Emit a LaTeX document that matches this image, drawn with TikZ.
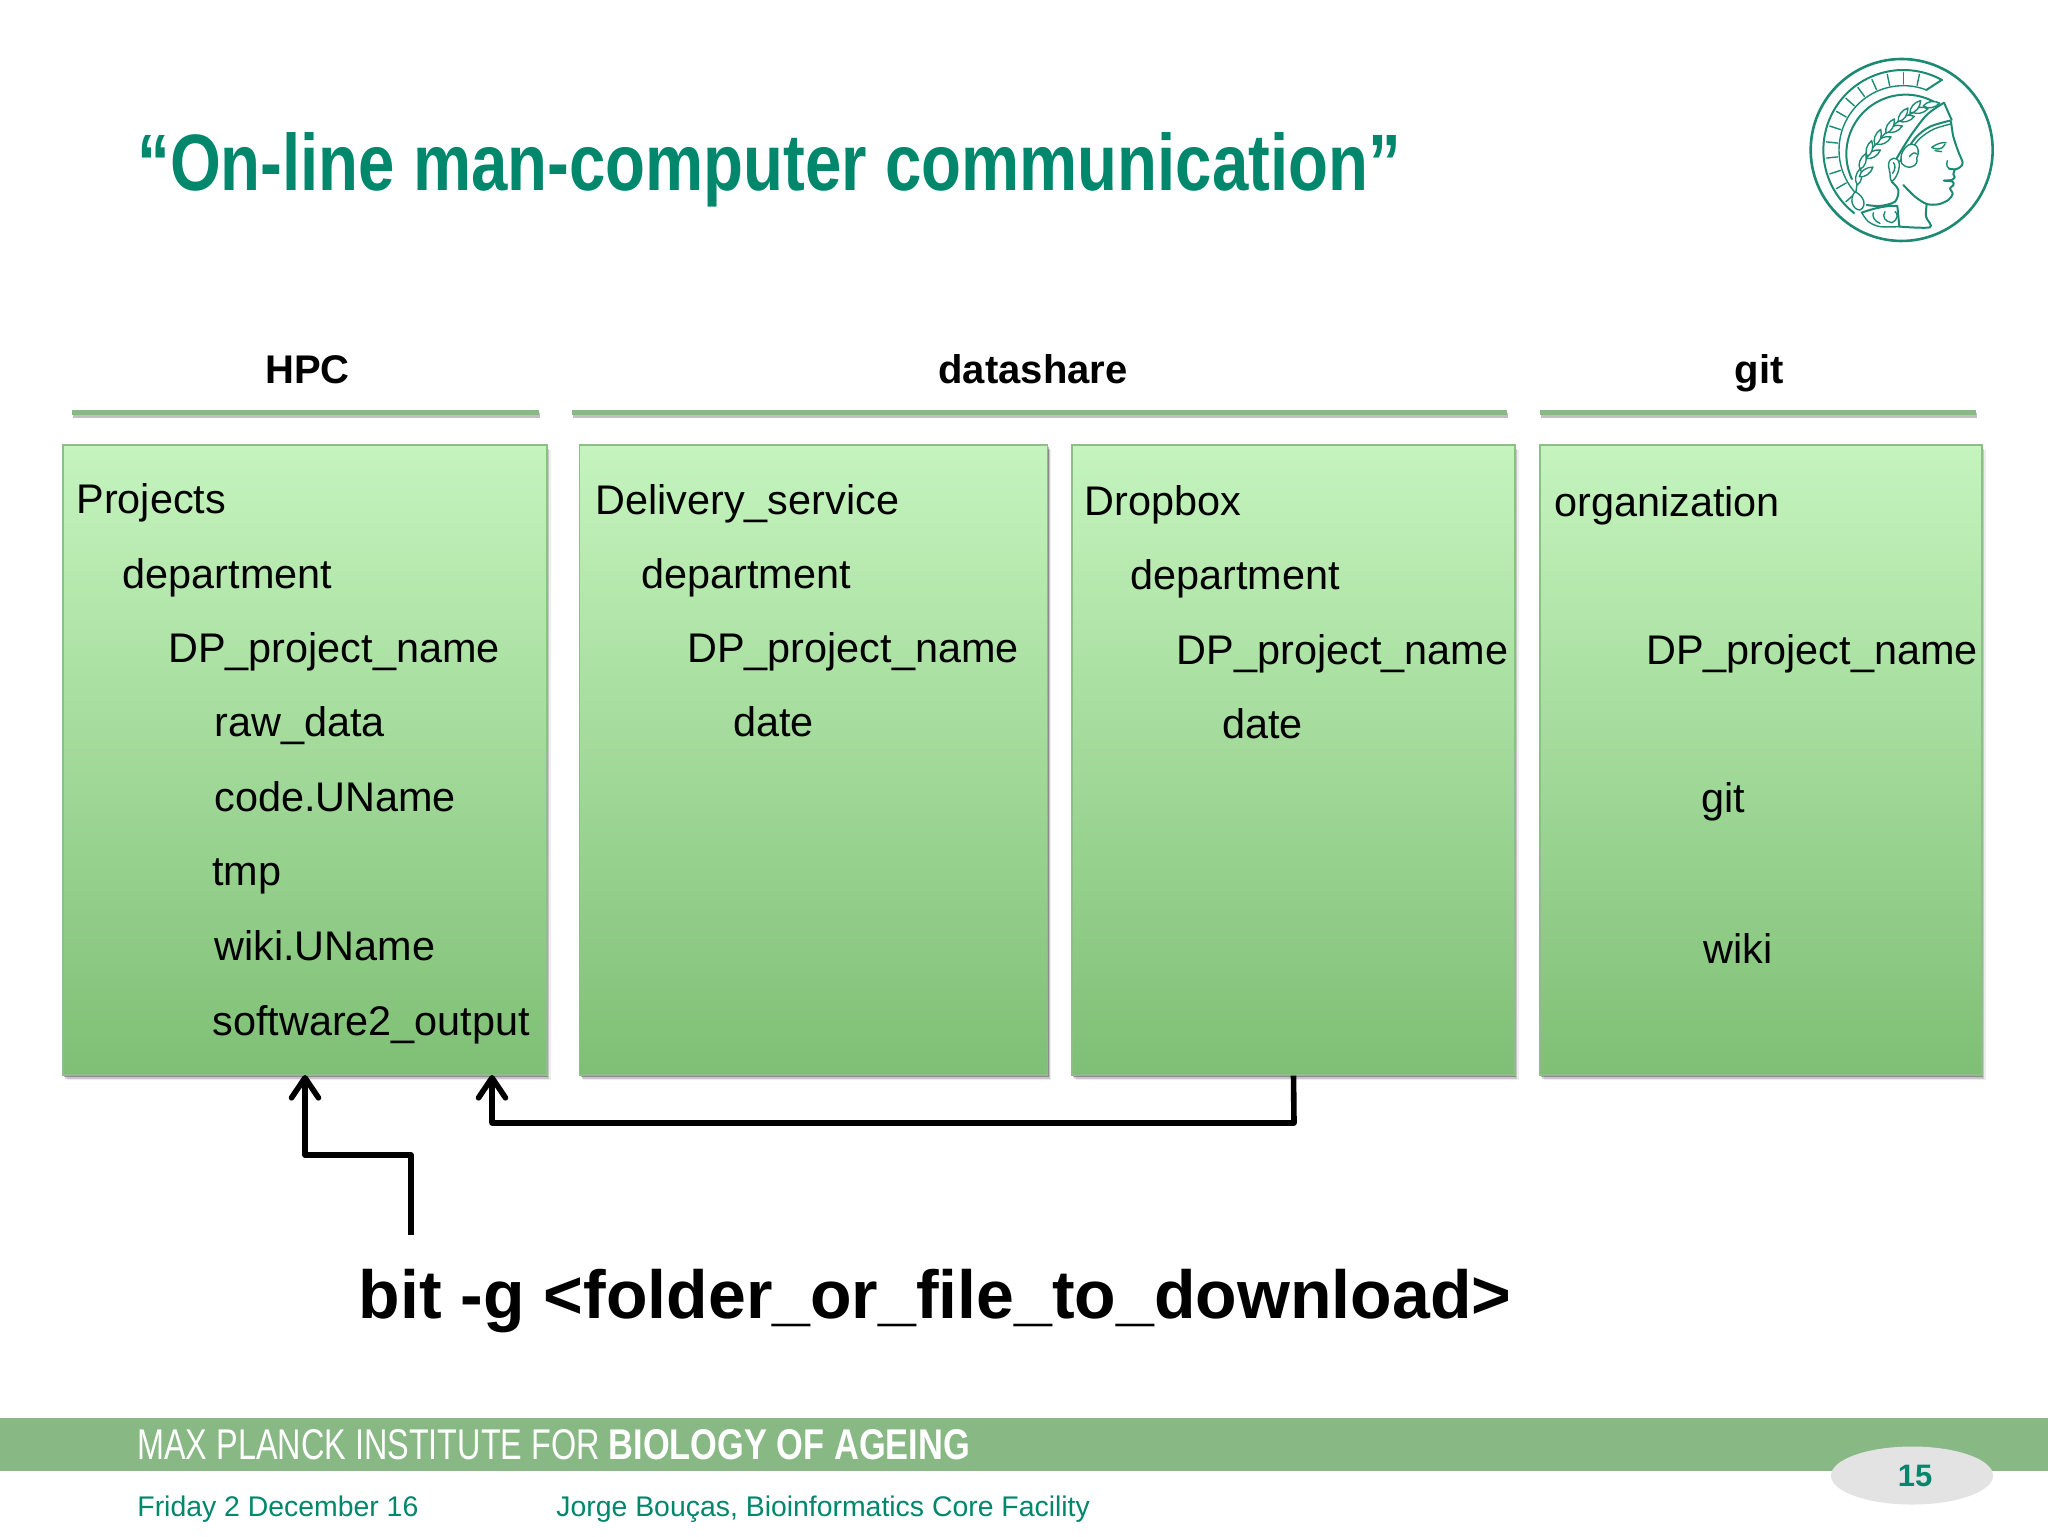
\documentclass[tikz,border=0pt]{standalone}
\usepackage{fontspec}
\setmainfont{Liberation Sans}
\newfontfamily\narrowfont[FakeStretch=0.817]{Liberation Sans}
\newfontfamily\bannerfont[FakeStretch=0.753]{Liberation Sans}
\newfontfamily\bannerbold[FakeStretch=0.80]{Liberation Sans Bold}
\usetikzlibrary{arrows.meta,shapes.geometric,shadows,calc}
\definecolor{mpgreen}{HTML}{00876C}
\definecolor{bar}{HTML}{88B884}
\definecolor{boxtop}{HTML}{C5F4BE}
\definecolor{boxbot}{HTML}{7FBF75}
\definecolor{boxline}{HTML}{8CBF86}
\definecolor{logoc}{HTML}{1C8A72}
\tikzset{
  x=0.5pt,y=-0.5pt,
  folderbox/.style={rectangle,inner sep=0pt,minimum height=315pt,draw=boxline,line width=0.6pt,
    top color=boxtop,bottom color=boxbot,
    drop shadow={shadow xshift=0.6pt,shadow yshift=-0.9pt,opacity=.30,fill=black},
    drop shadow={shadow xshift=1.2pt,shadow yshift=-1.8pt,opacity=.16,fill=black},
    drop shadow={shadow xshift=1.8pt,shadow yshift=-2.6pt,opacity=.07,fill=black}},
  rowtext/.style={anchor=base west,inner sep=0pt,font=\fontsize{20.7}{24}\selectfont,text=black},
  headtext/.style={anchor=base,inner sep=0pt,font=\fontsize{20}{24}\selectfont\bfseries,text=black},
  rulebar/.style={rectangle,inner sep=0pt,minimum height=2.5pt,fill=bar,
    drop shadow={shadow xshift=0.6pt,shadow yshift=-1.2pt,opacity=.25,fill=black}},
  linkline/.style={line width=2.8pt,black,line join=round,-{Straight Barb[length=10pt,width=13.5pt,line cap=round,round]}},
  logoline/.style={draw=logoc,line width=0.7pt,line join=round,line cap=round},
  logothick/.style={logoline,line width=1pt},
  leaf/.style={logoline,fill=white},
}
\newcommand{\leafshape}[3]{%
  \draw[leaf,shift={(#1,#2)},rotate=#3] (0,0) .. controls (12,12) and (34,12) .. (50,0) .. controls (34,-12) and (12,-12) .. (0,0);}
\begin{document}
\begin{tikzpicture}
\useasboundingbox (0,0) rectangle (2048,1536);
\fill[white] (0,0) rectangle (2048,1536);

% title
\node[anchor=base west,inner sep=0pt,text=mpgreen,font=\narrowfont\fontsize{40}{48}\selectfont\bfseries] (title) at (137,190) {“On-line man-computer communication”};

% header labels and rules
\node[headtext] (hpc) at (307.5,383) {HPC};
\node[headtext] (ds) at (1033,383) {datashare};
\node[headtext] (gt) at (1759,383) {git};
\node[rulebar,minimum width=233.5pt] (r1) at (305.5,412.8) {};
\node[rulebar,minimum width=467.5pt] (r2) at (1039.5,412.8) {};
\node[rulebar,minimum width=218pt] (r3) at (1758,412.8) {};

% boxes
\node[folderbox,minimum width=242pt] (b1) at (305,760) {};
\node[folderbox,minimum width=234pt] (b2) at (813.5,760) {};
\node[folderbox,minimum width=221.5pt] (b3) at (1293.5,760) {};
\node[folderbox,minimum width=221pt] (b4) at (1761,760) {};

% box 1
\node[rowtext] (t11) at (76,513) {Projects};
\node[rowtext] (t12) at (122.5,588) {department};
\node[rowtext] (t13) at (168,662) {DP\_project\_name};
\node[rowtext] (t14) at (214,736) {raw\_data};
\node[rowtext] (t15) at (214,811) {code.UName};
\node[rowtext] (t16) at (212,885) {tmp};
\node[rowtext] (t17) at (214,960) {wiki.UName};
\node[rowtext] (t18) at (212,1035) {software2\_output};
% box 2
\node[rowtext] (t21) at (595,514) {Delivery\_service};
\node[rowtext] (t22) at (641,588) {department};
\node[rowtext] (t23) at (687,662) {DP\_project\_name};
\node[rowtext] (t24) at (733,736) {date};
% box 3
\node[rowtext] (t31) at (1084.5,515) {Dropbox};
\node[rowtext] (t32) at (1130,589) {department};
\node[rowtext] (t33) at (1176.5,664) {DP\_project\_name};
\node[rowtext] (t34) at (1222,738) {date};
% box 4
\node[rowtext] (t41) at (1554,516) {organization};
\node[rowtext] (t42) at (1646,664) {DP\_project\_name};
\node[rowtext] (t43) at (1701,812) {git};
\node[rowtext] (t44) at (1703,963) {wiki};

% command
\node[anchor=base west,inner sep=0pt,font=\fontsize{34}{40}\selectfont\bfseries] (cmd) at (358.5,1318.5) {bit -g <folder\_or\_file\_to\_download>};

% connectors
\coordinate (a1) at (305,1075);
\coordinate (a2) at (492,1075);
\coordinate (s1) at (411,1235);
\coordinate (k1) at (411,1155);
\coordinate (k2) at (305,1155);
\coordinate (k3) at (1294,1123);
\coordinate (k4) at (492,1123);
\draw[linkline] (s1) -- (k1) -- (k2) -- (a1);
\draw[linkline] (b3.south) -- (k3) -- (k4) -- (a2);

% footer
\node[rectangle,inner sep=0pt,fill=bar,minimum width=1024pt,minimum height=26.5pt] (banner) at (1024,1444.5) {};
\node[anchor=base west,inner sep=0pt,text=white,font=\fontsize{21.5}{26}\selectfont] (bt) at (137,1459) {\bannerfont MAX PLANCK INSTITUTE FOR {\bannerbold BIOLOGY OF AGEING}};
\node[ellipse,inner sep=0pt,fill=black!11,minimum width=81pt,minimum height=29pt,text=mpgreen,font=\fontsize{15.5}{18}\selectfont\bfseries] (page) at (1912,1475.5) {\hspace{3pt}15};
\node[anchor=base west,inner sep=0pt,text=mpgreen,font=\fontsize{14.2}{18}\selectfont] (f1) at (137,1516) {Friday 2 December 16};
\node[anchor=base west,inner sep=0pt,text=mpgreen,font=\fontsize{14.2}{18}\selectfont] (f2) at (556,1516) {Jorge Bouças, Bioinformatics Core Facility};

% logo (drawn in crop coordinates)
\begin{scope}[shift={(1760,30)},scale=0.3333]
  \draw[logoline,line width=1.3pt] plot[domain=0:360,samples=120] ({425+273*cos(\x)},{360+273*sin(\x)});
  \draw[logothick] plot[domain=-61:-232,samples=80] ({430+240*cos(\x)},{360+240*sin(\x)});
  \draw[logoline] plot[domain=-69:-228,samples=80] ({430+193*cos(\x)},{360+193*sin(\x)});
  \draw[logothick] plot[domain=-62:-205,samples=80] ({437+178*cos(\x)},{372+178*sin(\x)});
  \draw[logothick] (545,150) -- (499,180);
  \foreach \a in {-78,-90,-102,-114,-126,-138,-150,-162,-174,-186,-198,-210,-222}{
    \draw[logoline] ({430+198*cos(\a)},{360+198*sin(\a)}) -- ({430+232*cos(\a)},{360+232*sin(\a)});
  }
  % wreath
  \draw[logoline] plot[smooth] coordinates {(285,510) (300,420) (345,345) (420,270) (530,215)};
  \leafshape{292}{465}{80}
  \leafshape{298}{440}{35}
  \leafshape{300}{418}{70}
  \leafshape{318}{385}{30}
  \leafshape{322}{380}{75}
  \leafshape{348}{342}{25}
  \leafshape{345}{345}{70}
  \leafshape{380}{305}{20}
  \leafshape{378}{310}{60}
  \leafshape{415}{272}{15}
  \leafshape{415}{275}{55}
  \leafshape{455}{245}{10}
  \leafshape{450}{250}{50}
  \leafshape{490}{228}{10}
  \draw[leaf] (285,485) .. controls (265,510) and (280,540) .. (300,540) .. controls (320,530) and (315,500) .. (285,485);
  % headband
  \draw[logothick] plot[smooth] coordinates {(410,385) (450,320) (500,255) (552,218)};
  \draw[logothick] (552,218) -- (575,270);
  \draw[logothick] plot[smooth] coordinates {(420,395) (465,325) (510,290) (570,272)};
  \draw[logoline] plot[smooth] coordinates {(428,398) (475,330) (520,298) (572,282)};
  % profile
  \draw[logothick] plot[smooth] coordinates {(573,275) (580,320) (595,365) (608,398) (600,412) (585,418) (567,416)};
  \draw[logoline] (562,392) .. controls (558,405) and (562,414) .. (567,416);
  \draw[logothick] plot[smooth] coordinates {(585,418) (580,432) (584,442) (575,450) (552,452)};
  \draw[logothick] plot[smooth] coordinates {(552,452) (578,455) (580,466) (570,475) (578,492) (565,510) (535,523) (500,522) (465,500) (430,465)};
  % eye and brow
  \draw[logoline] (515,352) .. controls (530,342) and (545,336) .. (558,338);
  \draw[logoline] (516,353) .. controls (530,358) and (545,362) .. (555,342) (525,362) -- (545,365);
  % hair curls
  \draw[leaf] (445,345) .. controls (475,335) and (480,365) .. (470,385) .. controls (478,405) and (445,425) .. (425,400) .. controls (418,375) and (430,355) .. (445,345);
  \draw[logoline] (448,380) .. controls (455,370) and (465,365) .. (470,372);
  % ear
  \draw[leaf] (388,420) .. controls (378,390) and (400,378) .. (412,388) .. controls (425,400) and (415,440) .. (395,455) .. controls (388,445) and (392,432) .. (388,420);
  \draw[logoline] (400,398) .. controls (408,405) and (405,420) .. (398,430);
  % hair back and neck
  \draw[logothick] plot[smooth] coordinates {(395,455) (415,480) (405,515) (360,528) (320,525)};
  \draw[logothick] plot[smooth] coordinates {(500,522) (498,560) (510,592) (420,590)};
  \draw[logothick] (305,548) .. controls (340,535) and (385,525) .. (412,528) -- (418,590);
  \draw[logoline] plot[smooth] coordinates {(305,548) (325,575) (360,590) (420,590)};
  \draw[logoline] (340,548) .. controls (335,560) and (345,575) .. (360,580) (375,545) .. controls (365,560) and (375,575) .. (395,578) .. controls (415,570) and (415,550) .. (405,545);
\end{scope}
\end{tikzpicture}
\end{document}
